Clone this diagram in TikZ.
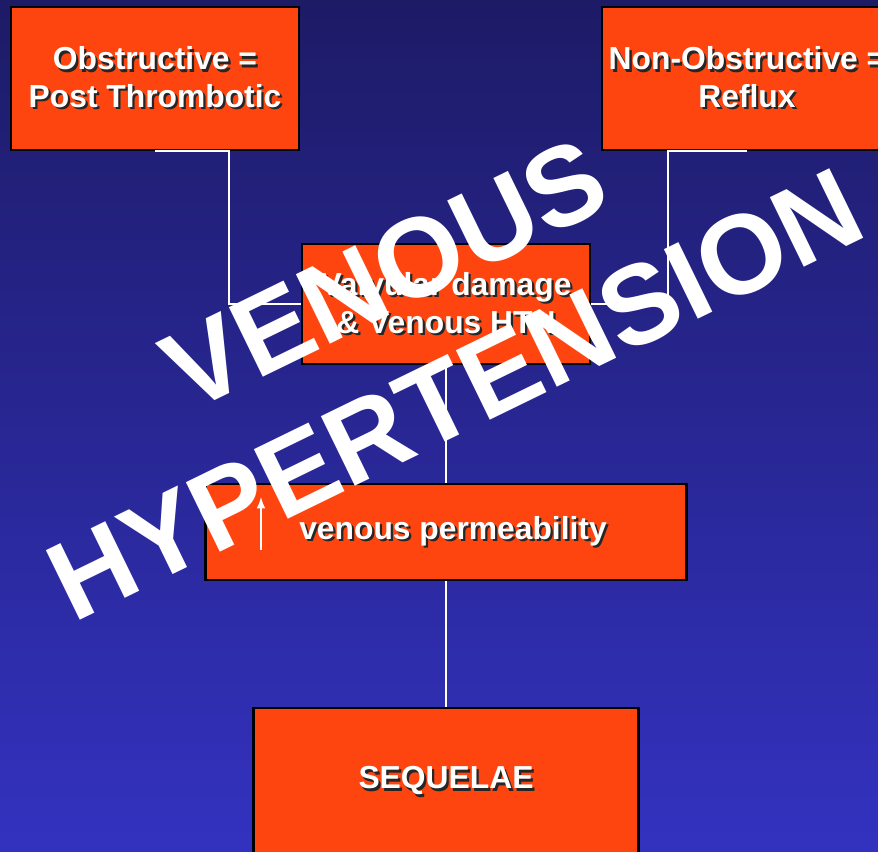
\documentclass[tikz,border=0pt]{standalone}
\usepackage{fontspec}
\setmainfont{Liberation Sans}
\usepackage{tikz}

\definecolor{bgtop}{RGB}{29,27,102}
\definecolor{bgbot}{RGB}{51,50,192}
\definecolor{boxfill}{RGB}{255,69,15}

% white text with a dark drop shadow
\newcommand\shadowtxt[1]{\rlap{\kern1.3pt\raisebox{-1.3pt}{\color{black!85}#1}}#1}

\tikzset{
  box/.style={draw=black, line width=1.2pt, fill=boxfill, text=white, align=center,
    inner sep=0pt, font=\bfseries\fontsize{18.1}{21.5}\selectfont},
  link/.style={draw=white, line width=0.8pt},
  stamp/.style={text=white, rotate=26, anchor=base, inner sep=0pt,
    font=\bfseries\fontsize{64}{78}\selectfont}
}

\begin{document}
\begin{tikzpicture}[x=0.02cm, y=-0.02cm]
        % Page and background
        \useasboundingbox (0,0) rectangle (878,851);
        \clip (0,0) rectangle (878,851);
        \fill[top color=bgtop, bottom color=bgbot] (0,0) rectangle (878,851);

        % The boxes
        \node[box, minimum width=5.76cm, minimum height=2.86cm] (obst) at (155,78.5)
            {\shadowtxt{Obstructive =}\\\shadowtxt{Post Thrombotic}};
        \node[box, minimum width=5.8cm, minimum height=2.86cm] (nonobst) at (747,78.5)
            {\shadowtxt{Non-Obstructive =}\\\shadowtxt{Reflux}};
        \node[box, minimum width=5.76cm, minimum height=2.4cm] (valv) at (446,304)
            {\shadowtxt{Valvular damage}\\\shadowtxt{\& Venous HTN}};
        \node[box, minimum width=9.62cm, minimum height=1.92cm] (perm) at (446,532)
            {\hspace{8pt}\shadowtxt{venous permeability}};
        \node[box, minimum width=7.7cm, minimum height=2.96cm] (seq) at (446,782)
            {\shadowtxt{SEQUELAE}};

        % Elbows of the upper links
        \coordinate (elbowL) at (229,304);
        \coordinate (elbowR) at (668,304);

        % Links
        \draw[link] (obst.south) -| (elbowL) -- (valv.west);
        \draw[link] (nonobst.south) -| (elbowR) -- (valv.east);
        \draw[link] (valv.south) -- (perm.north);
        \draw[link] (perm.south) -- (seq.north);

        % Up arrow in front of venous permeability
        \coordinate (upfoot) at (261,550);
        \coordinate (uptip) at (261,497);
        \draw[link, line width=1.2pt, -latex] (upfoot) -- (uptip);

        % Stamp over everything
        \node[stamp] (stampa) at (402,309) {VENOUS};
        \node[stamp] (stampb) at (472,429) {HYPERTENSION};
\end{tikzpicture}
\end{document}
